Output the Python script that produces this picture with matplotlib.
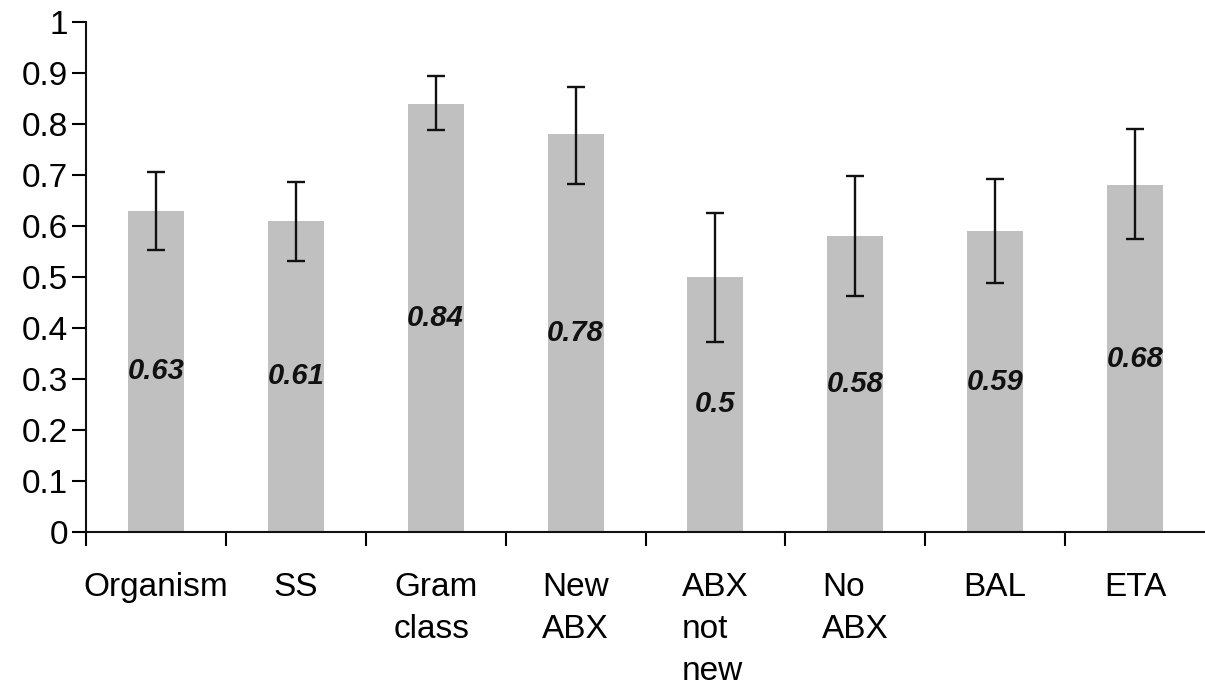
import matplotlib
matplotlib.use('Agg')
import matplotlib.pyplot as plt
import numpy as np

plt.rcParams['font.family'] = ['Liberation Sans', 'DejaVu Sans']

#------------------------------------------------
# data
categories = ['Organism', 'SS', 'Gram\nclass', 'New\nABX', 'ABX\nnot\nnew', 'No\nABX', 'BAL', 'ETA']
values = [0.63, 0.61, 0.84, 0.78, 0.5, 0.58, 0.59, 0.68]
ci_low = [0.553, 0.532, 0.788, 0.682, 0.373, 0.463, 0.489, 0.575]
ci_high = [0.706, 0.686, 0.894, 0.873, 0.626, 0.699, 0.693, 0.790]
value_labels = ['0.63', '0.61', '0.84', '0.78', '0.5', '0.58', '0.59', '0.68']
y_ticks = [0, 0.1, 0.2, 0.3, 0.4, 0.5, 0.6, 0.7, 0.8, 0.9, 1]

#------------------------------------------------
fig = plt.figure(figsize=(12.05, 6.86), dpi=100)
ax = fig.add_axes([0.0714, 0.2245, 0.9286, 0.7434])

x = np.arange(len(categories)) + 0.5
vals = np.array(values)
yerr = [vals - np.array(ci_low), np.array(ci_high) - vals]

ax.bar(x, vals, width=0.4, color='#c0c0c0', zorder=1)
ax.errorbar(x, vals, yerr=yerr, fmt='none', ecolor='#111111',
            elinewidth=1.7, capsize=6.5, capthick=1.7, zorder=2)

# value labels in the middle of each bar
for xi, v, lab in zip(x, values, value_labels):
    ax.text(xi, v / 2, lab, ha='center', va='center', fontsize=21,
            fontweight='bold', fontstyle='italic', color='#111111')

ax.set_xlim(0, len(categories))
ax.set_ylim(0, 1)

ax.set_yticks(y_ticks)
ax.set_yticklabels(['{:g}'.format(t) for t in y_ticks])

# category labels at bar centres, ticks at the boundaries
ax.set_xticks(x)
ax.set_xticklabels(categories, multialignment='left', linespacing=1.45)
ax.set_xticks(np.arange(len(categories)), minor=True)
ax.tick_params(axis='x', which='major', length=0, pad=29, labelsize=24)
ax.tick_params(axis='x', which='minor', length=10, width=1.5, direction='out')
ax.tick_params(axis='y', length=10, width=1.5, direction='out', pad=3, labelsize=24)

for s in ['top', 'right']:
    ax.spines[s].set_visible(False)
for s in ['left', 'bottom']:
    ax.spines[s].set_linewidth(1.5)
    ax.spines[s].set_color('#111111')

fig.savefig('out.png', dpi=100)
